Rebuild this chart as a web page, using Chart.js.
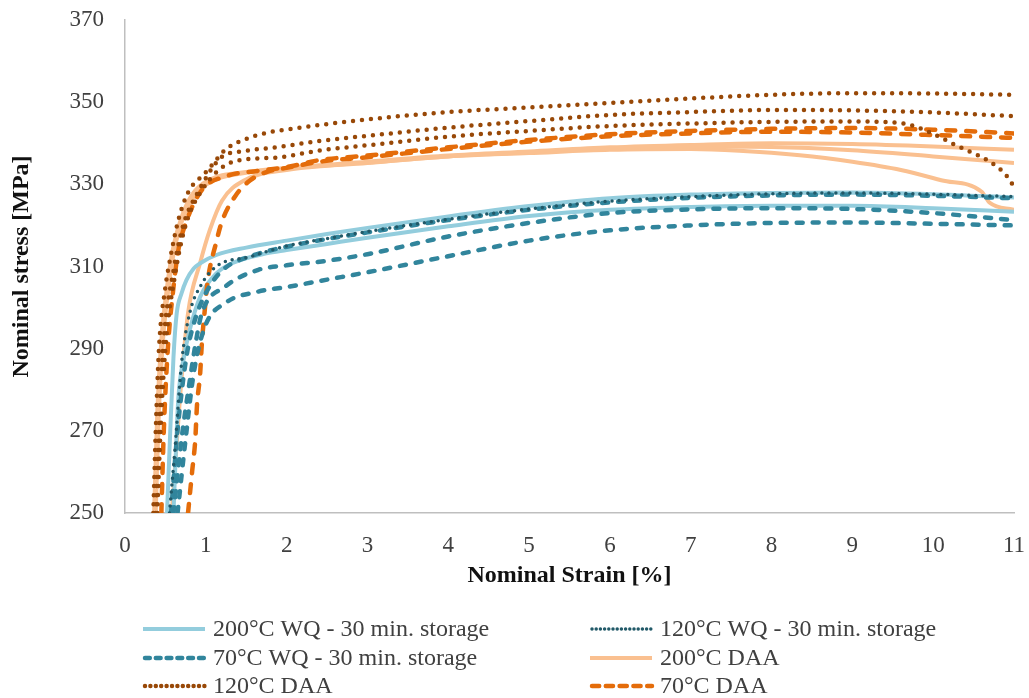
<!DOCTYPE html>
<html>
<head>
<meta charset="utf-8">
<script src="https://cdn.jsdelivr.net/npm/chart.js@4/dist/chart.umd.min.js"></script>
<style>
  html, body { margin: 0; padding: 0; background: #fff; }
  canvas { display: block; }
</style>
</head>
<body>
<canvas id="chart" width="1029" height="698"></canvas>
<script>
// series names (legend order)
const seriesNames = [
  '200°C WQ - 30 min. storage',
  '120°C WQ - 30 min. storage',
  '70°C WQ - 30 min. storage',
  '200°C DAA',
  '120°C DAA',
  '70°C DAA'
];

// [strain %, stress MPa], one array per specimen
const wq200_a = [[0.52,250],[0.56,270],[0.60,288],[0.64,298.6],[0.70,303.5],[0.76,306.7],[0.85,309.5],[0.93,310.8],[1.13,312.8],[1.5,314.6],[2,316.3],[2.5,317.9],[3,319.4],[4,322.2],[5,324.7],[6,326.6],[7,327.5],[8,327.9],[9,328],[10,327.6],[11,326.8]];
const wq200_b = [[0.60,250],[0.63,265],[0.66,278],[0.73,288],[0.80,294.5],[0.93,302.6],[1.13,308.3],[1.34,310.9],[1.75,313.2],[2,314],[2.5,315.5],[3,317],[4,319.8],[5,322.3],[6,323.8],[7,324.5],[8,324.8],[9,324.8],[10,324.2],[11,323.3]];

const wq120_a = [[0.55,250],[0.62,266],[0.70,286.5],[0.80,298.6],[0.93,305.1],[1.13,310],[1.55,312.4],[2,315],[2.5,316.8],[3,318.5],[4,321.5],[5,324],[6,325.9],[7,327],[8,327.7],[9,327.9],[10,327.6],[11,327]];

const wq70_a = [[0.57,250],[0.65,270],[0.76,288],[0.85,296],[1.0,303.5],[1.2,309],[1.6,312.8],[2,314.8],[2.5,316.7],[3,318.3],[4,321.3],[5,323.8],[6,325.6],[7,326.7],[8,327.3],[9,327.5],[10,327.2],[11,326.6]];
const wq70_b = [[0.60,250],[0.70,268],[0.80,282],[0.88,292],[0.95,298.6],[1.24,305.1],[1.65,309.2],[2,310.3],[2.5,311.4],[3,313],[4,317.3],[5,320.6],[6,323],[7,323.9],[8,324.2],[9,324],[10,323],[11,321.3]];
const wq70_c = [[0.65,250],[0.75,268],[0.85,284],[0.99,295.4],[1.24,301.1],[1.65,303.9],[2,305],[2.5,306.8],[3,308.6],[4,312.5],[5,316.3],[6,318.8],[7,320],[8,320.6],[9,320.7],[10,320.4],[11,320]];

const daa200_a = [[0.36,250],[0.40,275],[0.45,292],[0.52,305],[0.60,315],[0.70,322],[0.83,327.5],[1.03,331],[1.5,333],[2,334],[3,335.5],[4,337],[5,338],[6,339],[7,339.6],[8,340],[9,339.8],[10,339.2],[11,338.4]];
const daa200_b = [[0.38,250],[0.42,275],[0.47,292],[0.54,305],[0.62,315],[0.72,322],[0.85,327],[1.05,330.5],[1.5,332.8],[2,333.8],[3,335.3],[4,336.8],[5,337.8],[6,338.7],[7,339.2],[8,339.1],[9,338.3],[10,336.8],[11,335.2]];
const daa200_c = [[0.58,250],[0.68,278],[0.78,298.7],[0.93,310.9],[1.05,318.9],[1.2,326],[1.48,331],[2,333.5],[3,335.2],[4,336.8],[5,337.6],[6,338.4],[7,338.6],[7.6,338.2],[8.35,337.1],[9,335.5],[9.6,333.5],[10.1,331],[10.6,328.2],[10.7,325.5],[11,323.8]];

const daa120_a = [[0.35,250],[0.38,270],[0.42,290],[0.50,305],[0.56,312],[0.66,321.3],[0.78,328],[0.99,332.7],[1.11,335.5],[1.24,338.4],[1.44,340.6],[1.77,342.6],[2.1,343.6],[2.43,344.5],[3,345.8],[4,347.6],[5,348.7],[6,349.8],[7,350.9],[8,351.8],[9,352.2],[10,352.1],[11,351.8]];
const daa120_b = [[0.38,250],[0.42,270],[0.47,290],[0.60,309],[0.72,320],[0.90,328],[1.2,336.7],[1.44,338],[1.86,339],[2.43,340.6],[3,341.8],[4,343.8],[5,345.4],[6,346.9],[7,347.6],[8,348.1],[9,348],[10,347.5],[11,346.6]];
const daa120_c = [[0.40,250],[0.44,270],[0.50,290],[0.62,308],[0.75,320],[0.95,328.5],[1.34,335.5],[1.86,336.5],[2.43,338.3],[3,339.5],[4,341.6],[5,343],[6,344.2],[7,344.8],[8,345.2],[9,345.3],[9.6,344.9],[10,342.3],[10.25,339.8],[10.45,338],[10.66,336],[10.9,332.3],[11,329.4]];

const daa70_a = [[0.45,250],[0.48,270],[0.53,290],[0.60,305],[0.66,314],[0.76,321],[0.95,328.6],[1.24,331.9],[1.65,333.3],[2,334.2],[2.41,335.9],[3,337],[4,339],[5,340.8],[6,342.2],[7,343],[8,343.5],[9,343.7],[10,343.3],[11,342.4]];
const daa70_b = [[0.78,250],[0.83,260],[0.87,268],[0.89,276],[0.93,284],[0.95,291],[0.99,300],[1.02,306],[1.13,316],[1.2,321],[1.37,327.3],[1.55,331],[1.75,333],[2,334],[2.41,335.5],[3,336.6],[4,338.6],[5,340.4],[6,341.7],[7,342.4],[8,342.8],[9,342.6],[10,342],[11,341.3]];

const seriesCurves = [
  [wq200_a, wq200_b],
  [wq120_a],
  [wq70_a, wq70_b, wq70_c],
  [daa200_a, daa200_b, daa200_c],
  [daa120_a, daa120_b, daa120_c],
  [daa70_a, daa70_b]
];

// line look per series; order: higher value drawn further back
const styles = [
  { color: '#93CDDD', width: 4,   dash: [],       cap: 'butt',  order: 5 },
  { color: '#215968', width: 3.5, dash: [0, 7],   cap: 'round', order: 2 },
  { color: '#31859C', width: 4.5, dash: [6, 10],  cap: 'round', order: 3 },
  { color: '#FAC090', width: 4,   dash: [],       cap: 'butt',  order: 6 },
  { color: '#984807', width: 4.5, dash: [0, 9],   cap: 'round', order: 1 },
  { color: '#E46C0A', width: 4.5, dash: [9, 11],  cap: 'round', order: 4 }
];

const datasets = [];
seriesCurves.forEach((curves, i) => {
  const st = styles[i];
  curves.forEach(curve => {
    datasets.push({
      label: seriesNames[i],
      data: curve.map(p => ({ x: p[0], y: p[1] })),
      borderColor: st.color,
      backgroundColor: st.color,
      borderWidth: st.width,
      borderDash: st.dash,
      borderCapStyle: st.cap,
      pointRadius: 0,
      fill: false,
      cubicInterpolationMode: 'monotone',
      order: st.order
    });
  });
});

const FONT = '"Liberation Serif", serif';

// two-column legend under the plot, like the original
const gridLegend = {
  id: 'gridLegend',
  afterDraw(chart) {
    const ctx = chart.ctx;
    const colX = [143, 590];
    const rowY = [629, 658, 686];
    ctx.save();
    ctx.font = '24px ' + FONT;
    ctx.fillStyle = '#404040';
    ctx.textBaseline = 'middle';
    seriesNames.forEach((name, i) => {
      const st = styles[i];
      const x = colX[i % 2], y = rowY[Math.floor(i / 2)];
      ctx.beginPath();
      ctx.strokeStyle = st.color;
      ctx.lineWidth = st.width;
      ctx.lineCap = st.cap;
      ctx.setLineDash(st.dash.length ? [st.dash[0] * 0.8, st.dash[1] * 0.6] : []);
      ctx.moveTo(x + (st.cap === 'round' ? 2 : 0), y);
      ctx.lineTo(x + 62, y);
      ctx.stroke();
      ctx.setLineDash([]);
      ctx.fillText(name, x + 70, y + 1);
    });
    ctx.restore();
  }
};

new Chart(document.getElementById('chart'), {
  type: 'line',
  data: { datasets: datasets },
  plugins: [gridLegend],
  options: {
    responsive: false,
    animation: false,
    events: [],
    layout: { padding: { left: 0, right: 15, top: 20, bottom: 105 } },
    plugins: { legend: { display: false }, tooltip: { enabled: false } },
    scales: {
      x: {
        type: 'linear',
        min: 0, max: 11,
        afterFit: s => { s.height = 80; s.paddingLeft = 0; s.paddingRight = 0; },
        grid: { display: false, drawTicks: false },
        border: { display: true, color: '#BFBFBF', width: 1.5 },
        ticks: { stepSize: 1, padding: 19, color: '#404040', font: { family: FONT, size: 23 } },
        title: { display: true, text: 'Nominal Strain [%]', color: '#111', padding: { top: 0, bottom: 3 },
                 font: { family: FONT, size: 24, weight: 'bold' } }
      },
      y: {
        min: 250, max: 370,
        afterFit: s => { s.width = 125; s.paddingTop = 0; s.paddingBottom = 0; },
        grid: { display: false, drawTicks: false },
        border: { display: true, color: '#BFBFBF', width: 1.5 },
        ticks: { stepSize: 20, padding: 21, color: '#404040', font: { family: FONT, size: 23 } },
        title: { display: true, text: 'Nominal stress [MPa]', color: '#111', padding: { top: 7, bottom: 0 },
                 font: { family: FONT, size: 24, weight: 'bold' } }
      }
    }
  }
});
</script>
</body>
</html>
